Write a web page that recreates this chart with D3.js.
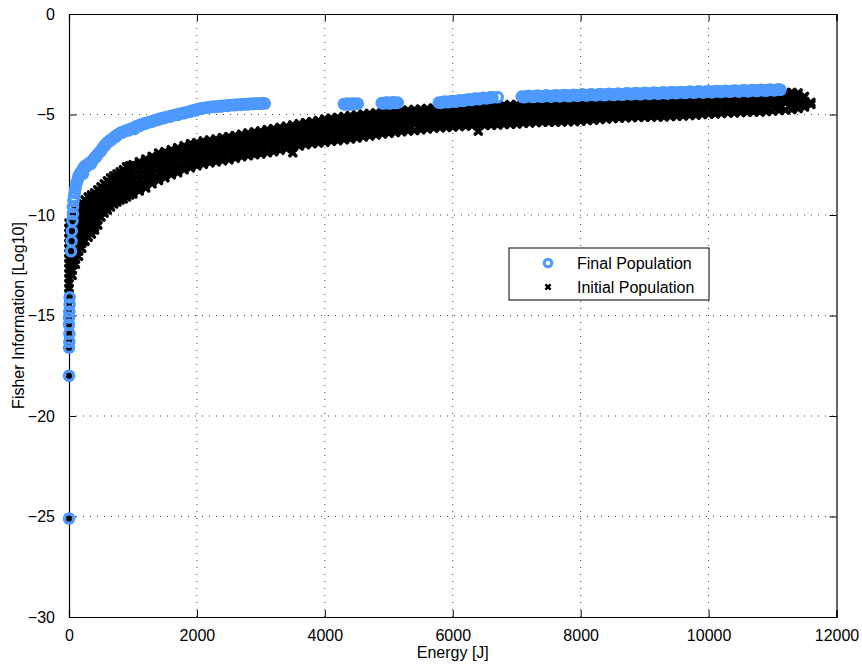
<!DOCTYPE html>
<html>
<head>
<meta charset="utf-8">
<script src="https://cdn.jsdelivr.net/npm/d3@7"></script>
<style>
  body { margin: 0; background: #fff; }
  text { font-family: "Liberation Sans", Arial, Helvetica, sans-serif; }
</style>
</head>
<body>
<div id="chart"></div>
<script>
var margin = {top: 14, right: 25.5, bottom: 48, left: 69},
    width = 862 - margin.left - margin.right,
    height = 665 - margin.top - margin.bottom;

// axis ticks
var xTicks = [0, 2000, 4000, 6000, 8000, 10000, 12000];
var yTicks = [0, -5, -10, -15, -20, -25, -30];

// legend entries
var seriesNames = ["Final Population", "Initial Population"];

// initial population: [energy, fisher values read down the band at that energy]
var initialPop = [
  [0, -10.4,-10.65,-10.9,-11.15,-11.4,-11.65,-11.9,-12.15,-12.4,-12.65,-12.9,-13.15,-13.4,-13.65,-13.9],
  [2, -14.1,-14.45,-14.8,-15.1,-15.45,-15.9,-16.3,-16.6,-18.0,-25.1],
  [50, -10.0,-10.25,-10.5,-10.75,-11.0,-11.25,-11.5,-11.75,-12.0,-12.25,-12.5,-12.75,-13.0],
  [100, -9.7,-9.95,-10.2,-10.45,-10.7,-10.95,-11.2,-11.45,-11.7,-11.95,-12.2,-12.45],
  [150, -9.55,-9.8,-10.05,-10.3,-10.55,-10.8,-11.05,-11.3,-11.55,-11.8,-12.05],
  [200, -9.4,-9.65,-9.9,-10.15,-10.4,-10.65,-10.9,-11.15,-11.4,-11.65],
  [250, -9.25,-9.5,-9.75,-10.0,-10.25,-10.5,-10.75,-11.0,-11.3],
  [300, -9.1,-9.35,-9.6,-9.85,-10.1,-10.35,-10.6,-10.85,-11.1],
  [350, -9.0,-9.25,-9.5,-9.75,-10.0,-10.25,-10.5,-10.75,-10.95],
  [400, -8.9,-9.15,-9.4,-9.65,-9.9,-10.15,-10.4,-10.6,-10.75],
  [450, -8.75,-9.0,-9.25,-9.5,-9.75,-10.0,-10.25,-10.5],
  [500, -8.6,-8.85,-9.1,-9.35,-9.6,-9.85,-10.1],
  [550, -8.45,-8.7,-8.95,-9.2,-9.45,-9.7,-9.9],
  [600, -8.3,-8.55,-8.8,-9.05,-9.3,-9.55,-9.75],
  [650, -8.15,-8.4,-8.65,-8.9,-9.15,-9.4,-9.6],
  [700, -8.05,-8.3,-8.55,-8.8,-9.05,-9.3,-9.45],
  [750, -7.95,-8.2,-8.45,-8.7,-8.95,-9.2,-9.35],
  [800, -7.85,-8.1,-8.35,-8.6,-8.85,-9.1,-9.25],
  [850, -7.75,-8.0,-8.25,-8.5,-8.75,-9.0,-9.2],
  [900, -7.6,-7.85,-8.1,-8.35,-8.6,-8.85,-9.1],
  [950, -7.55,-7.8,-8.05,-8.3,-8.55,-8.8,-9.0],
  [1000, -7.5,-7.75,-8.0,-8.25,-8.5,-8.75,-8.95],
  [1100, -7.35,-7.47,-7.72,-7.97,-8.22,-8.47,-8.72,-8.8],
  [1200, -7.22,-7.47,-7.72,-7.97,-8.22,-8.47,-8.65],
  [1300, -7.08,-7.2,-7.45,-7.7,-7.95,-8.2,-8.45],
  [1400, -6.92,-7.17,-7.42,-7.67,-7.92,-8.17,-8.28],
  [1500, -6.85,-6.97,-7.22,-7.47,-7.72,-7.97,-8.15],
  [1600, -6.75,-7.0,-7.25,-7.5,-7.75,-8.0],
  [1700, -6.65,-6.77,-7.02,-7.27,-7.52,-7.77,-7.9],
  [1800, -6.55,-6.8,-7.05,-7.3,-7.55,-7.75],
  [1900, -6.45,-6.57,-6.82,-7.07,-7.32,-7.57,-7.65],
  [2000, -6.4,-6.65,-6.9,-7.15,-7.4,-7.55],
  [2100, -6.32,-6.44,-6.69,-6.94,-7.19,-7.44,-7.48],
  [2200, -6.27,-6.52,-6.77,-7.02,-7.27,-7.4],
  [2300, -6.22,-6.34,-6.59,-6.84,-7.09,-7.35],
  [2400, -6.15,-6.4,-6.65,-6.9,-7.15,-7.3],
  [2500, -6.1,-6.22,-6.47,-6.72,-6.97,-7.25],
  [2600, -6.05,-6.3,-6.55,-6.8,-7.05,-7.18],
  [2700, -5.98,-6.1,-6.35,-6.6,-6.85,-7.1],
  [2800, -5.92,-6.17,-6.42,-6.67,-6.92,-7.05],
  [2900, -5.86,-5.98,-6.23,-6.48,-6.73,-7.0],
  [3000, -5.82,-6.07,-6.32,-6.57,-6.82,-6.97],
  [3100, -5.75,-5.87,-6.12,-6.37,-6.62,-6.9],
  [3200, -5.7,-5.95,-6.2,-6.45,-6.7,-6.85],
  [3300, -5.64,-5.76,-6.01,-6.26,-6.51,-6.78],
  [3400, -5.58,-5.83,-6.08,-6.33,-6.58,-6.7],
  [3500, -5.52,-5.64,-5.89,-6.14,-6.39,-6.62,-6.9],
  [3600, -5.46,-5.71,-5.96,-6.21,-6.46,-6.56],
  [3700, -5.4,-5.52,-5.77,-6.02,-6.27,-6.5],
  [3800, -5.35,-5.6,-5.85,-6.1,-6.35,-6.45],
  [3900, -5.3,-5.42,-5.67,-5.92,-6.17,-6.42],
  [4000, -5.23,-5.48,-5.73,-5.98,-6.23,-6.38],
  [4100, -5.18,-5.3,-5.55,-5.8,-6.05,-6.33],
  [4200, -5.14,-5.39,-5.64,-5.89,-6.14,-6.3],
  [4300, -5.1,-5.22,-5.47,-5.72,-5.97,-6.26],
  [4400, -5.05,-5.3,-5.55,-5.8,-6.05,-6.22],
  [4500, -5.02,-5.14,-5.39,-5.64,-5.89,-6.17],
  [4600, -4.98,-5.23,-5.48,-5.73,-5.98,-6.12],
  [4700, -4.95,-5.07,-5.32,-5.57,-5.82,-6.07],
  [4800, -4.92,-5.17,-5.42,-5.67,-5.92,-6.02],
  [4900, -4.88,-5.0,-5.25,-5.5,-5.75,-5.97],
  [5000, -4.85,-5.1,-5.35,-5.6,-5.85,-5.93],
  [5100, -4.83,-4.95,-5.2,-5.45,-5.7,-5.9],
  [5200, -4.8,-5.05,-5.3,-5.55,-5.8,-5.86],
  [5300, -4.78,-4.9,-5.15,-5.4,-5.65,-5.82],
  [5400, -4.75,-5.0,-5.25,-5.5,-5.8],
  [5500, -4.73,-4.85,-5.1,-5.35,-5.6,-5.76],
  [5600, -4.7,-4.95,-5.2,-5.45,-5.72],
  [5700, -4.68,-4.8,-5.05,-5.3,-5.55,-5.68],
  [5800, -4.66,-4.91,-5.16,-5.41,-5.66],
  [5900, -4.64,-4.76,-5.01,-5.26,-5.51,-5.64],
  [6000, -4.62,-4.87,-5.12,-5.37,-5.62],
  [6100, -4.6,-4.72,-4.97,-5.22,-5.47,-5.6],
  [6200, -4.58,-4.83,-5.08,-5.33,-5.58],
  [6300, -4.57,-4.69,-4.94,-5.19,-5.44,-5.56],
  [6400, -4.56,-4.81,-5.06,-5.31,-5.55,-5.82],
  [6500, -4.55,-4.67,-4.92,-5.17,-5.42,-5.54],
  [6600, -4.54,-4.79,-5.04,-5.29,-5.53],
  [6700, -4.53,-4.65,-4.9,-5.15,-5.4,-5.52],
  [6800, -4.52,-4.77,-5.02,-5.27,-5.5],
  [6900, -4.51,-4.63,-4.88,-5.13,-5.38,-5.48],
  [7000, -4.5,-4.75,-5.0,-5.25,-5.47],
  [7100, -4.49,-4.61,-4.86,-5.11,-5.36,-5.44],
  [7200, -4.48,-4.73,-4.98,-5.23,-5.42],
  [7300, -4.47,-4.59,-4.84,-5.09,-5.34,-5.4],
  [7400, -4.46,-4.71,-4.96,-5.21,-5.38],
  [7500, -4.45,-4.57,-4.82,-5.07,-5.32,-5.38],
  [7600, -4.44,-4.69,-4.94,-5.19,-5.38],
  [7700, -4.43,-4.55,-4.8,-5.05,-5.3,-5.37],
  [7800, -4.42,-4.67,-4.92,-5.17,-5.36],
  [7900, -4.41,-4.53,-4.78,-5.03,-5.28,-5.35],
  [8000, -4.4,-4.65,-4.9,-5.15,-5.33],
  [8100, -4.39,-4.51,-4.76,-5.01,-5.26,-5.3],
  [8200, -4.38,-4.63,-4.88,-5.13,-5.28],
  [8300, -4.37,-4.49,-4.74,-4.99,-5.25],
  [8400, -4.36,-4.61,-4.86,-5.11,-5.22],
  [8500, -4.35,-4.47,-4.72,-4.97,-5.2],
  [8600, -4.34,-4.59,-4.84,-5.09,-5.18],
  [8700, -4.33,-4.45,-4.7,-4.95,-5.16],
  [8800, -4.32,-4.57,-4.82,-5.07,-5.15],
  [8900, -4.31,-4.43,-4.68,-4.93,-5.14],
  [9000, -4.3,-4.55,-4.8,-5.05,-5.13],
  [9100, -4.29,-4.41,-4.66,-4.91,-5.12],
  [9200, -4.28,-4.53,-4.78,-5.03,-5.12],
  [9300, -4.27,-4.39,-4.64,-4.89,-5.12],
  [9400, -4.26,-4.51,-4.76,-5.01,-5.1],
  [9500, -4.25,-4.37,-4.62,-4.87,-5.08],
  [9600, -4.24,-4.49,-4.74,-4.99,-5.07],
  [9700, -4.23,-4.35,-4.6,-4.85,-5.05],
  [9800, -4.22,-4.47,-4.72,-4.97,-5.03],
  [9900, -4.21,-4.33,-4.58,-4.83,-5.0],
  [10000, -4.2,-4.45,-4.7,-4.98],
  [10100, -4.19,-4.31,-4.56,-4.81,-4.97],
  [10200, -4.18,-4.43,-4.68,-4.95],
  [10300, -4.17,-4.29,-4.54,-4.79,-4.93],
  [10400, -4.16,-4.41,-4.66,-4.92],
  [10500, -4.15,-4.27,-4.52,-4.77,-4.9],
  [10600, -4.14,-4.39,-4.64,-4.89],
  [10700, -4.13,-4.25,-4.5,-4.75,-4.88],
  [10800, -4.12,-4.37,-4.62,-4.87],
  [10900, -4.1,-4.22,-4.47,-4.72,-4.85],
  [11000, -4.05,-4.3,-4.55,-4.83],
  [11100, -3.98,-4.1,-4.35,-4.6,-4.8],
  [11200, -3.93,-4.18,-4.43,-4.78],
  [11300, -3.9,-4.02,-4.27,-4.52,-4.75],
  [11400, -3.93,-4.18,-4.43,-4.7],
  [11500, -4.1,-4.35,-4.62],
  [11600, -4.4,-4.5]
];

// final population, low-energy curve: [energy, fisher]
var finalCurve = [
  [0,-25.1],[0,-18.0],[0,-16.6],[5,-16.3],[5,-15.9],[0,-15.45],[0,-15.1],[5,-14.8],[10,-14.45],[10,-14.1],
  [31,-11.8],[40,-11.3],[45,-10.8],[55,-10.3],[62,-9.95],[62,-9.6],[70,-9.3],[80,-9.1],[90,-8.9],
  [100,-8.7],[110,-8.5],[125,-8.35],[140,-8.2],[150,-8.05],[170,-7.95],[190,-7.85],[219,-7.7],[219,-7.95],
  [240,-7.6],[260,-7.55],[281,-7.5],[305,-7.45],[330,-7.4],[355,-7.35],[375,-7.25],[400,-7.15],[430,-7.05],
  [455,-6.95],[484,-6.85],[510,-6.75],[531,-6.65],[555,-6.55],[580,-6.45],[610,-6.37],[640,-6.29],[670,-6.22],
  [700,-6.15],[725,-6.08],[750,-6.02],[785,-5.95],[820,-5.88],[860,-5.83],[900,-5.79],[950,-5.73],[1000,-5.67],
  [1040,-5.61],[1080,-5.55],[1125,-5.5],[1170,-5.45],[1220,-5.41],[1266,-5.37],[1310,-5.32],[1360,-5.27],
  [1410,-5.22],[1460,-5.18],[1510,-5.14],[1560,-5.1],[1615,-5.05],[1670,-5.01],[1725,-4.97],[1781,-4.93],
  [1825,-4.9],[1870,-4.86],[1915,-4.82],[1960,-4.78],[2005,-4.74],[2047,-4.7],[2100,-4.68],[2150,-4.65],
  [2200,-4.63],[2250,-4.61],[2300,-4.6],[2350,-4.58],[2400,-4.57],[2460,-4.55],[2510,-4.54],[2562,-4.53],
  [2610,-4.51],[2660,-4.5],[2710,-4.49],[2760,-4.48],[2810,-4.47],[2860,-4.46],[2910,-4.46],[2950,-4.45],
  [3000,-4.45],[3060,-4.45],
  [265,-7.62],[345,-7.45],[420,-7.13],[495,-6.82],[570,-6.52],[650,-6.3],[735,-6.1],[840,-5.89],[930,-5.79],
  [1020,-5.72],[1100,-5.58],[1190,-5.46],[1290,-5.36],[1385,-5.27],[1485,-5.18],[1585,-5.1],[1700,-5.02],
  [1800,-4.94],[1890,-4.87],[1980,-4.8],[2070,-4.72],[2175,-4.66],[2275,-4.63],[2375,-4.6],[2480,-4.57],
  [2590,-4.54],[2690,-4.52],[2790,-4.5],[2880,-4.48],[2980,-4.47],[3030,-4.43]
];

// final population, high-energy groups: [energy, fisher]
var finalGroups = [
  [4297,-4.48],[4340,-4.47],[4380,-4.48],[4420,-4.47],[4470,-4.47],[4516,-4.46],
  [4318,-4.5],[4360,-4.45],[4400,-4.5],[4445,-4.45],
  [4890,-4.43],[4940,-4.42],[4990,-4.42],[5040,-4.42],[5090,-4.41],[5140,-4.41],
  [4915,-4.45],[4965,-4.4],[5015,-4.45],[5065,-4.39],[5115,-4.43],
  [5781,-4.41],[5840,-4.39],[5900,-4.37],[5960,-4.36],[6020,-4.34],[6080,-4.32],[6140,-4.3],[6200,-4.28],
  [6260,-4.26],[6320,-4.24],[6380,-4.22],[6440,-4.2],[6500,-4.18],[6560,-4.17],[6620,-4.15],[6703,-4.14],
  [5810,-4.42],[5870,-4.36],[5930,-4.39],[5990,-4.33],[6050,-4.36],[6110,-4.29],[6170,-4.32],[6230,-4.25],
  [6290,-4.28],[6350,-4.21],[6410,-4.24],[6470,-4.17],[6530,-4.2],[6590,-4.14]
];

// final population, long top band: [energy, fisher]
var finalTop = [
  [7078,-4.11],[7150,-4.1],[7220,-4.1],[7290,-4.09],[7360,-4.09],[7430,-4.08],[7500,-4.08],[7570,-4.07],
  [7640,-4.06],[7710,-4.06],[7780,-4.05],[7850,-4.05],[7920,-4.04],[7990,-4.03],[8060,-4.03],[8130,-4.02],
  [8200,-4.02],[8270,-4.01],[8340,-4.0],[8410,-4.0],[8480,-3.99],[8550,-3.99],[8620,-3.98],[8690,-3.97],
  [8760,-3.97],[8830,-3.96],[8900,-3.96],[8970,-3.95],[9040,-3.94],[9110,-3.94],[9180,-3.93],[9250,-3.93],
  [9320,-3.92],[9390,-3.91],[9460,-3.91],[9530,-3.9],[9600,-3.9],[9670,-3.89],[9740,-3.88],[9810,-3.88],
  [9880,-3.87],[9950,-3.87],[10020,-3.86],[10090,-3.85],[10160,-3.85],[10230,-3.84],[10300,-3.84],[10370,-3.83],
  [10440,-3.82],[10510,-3.82],[10580,-3.81],[10650,-3.81],[10720,-3.8],[10790,-3.79],[10860,-3.79],[10930,-3.78],
  [11000,-3.78],[11060,-3.77],[11125,-3.77],
  [7115,-4.14],[7185,-4.07],[7255,-4.13],[7325,-4.06],[7395,-4.12],[7465,-4.05],[7535,-4.11],[7605,-4.04],
  [7675,-4.1],[7745,-4.03],[7815,-4.09],[7885,-4.02],[7955,-4.07],[8025,-4.0],[8095,-4.06],[8165,-3.99],
  [8235,-4.05],[8305,-3.98],[8375,-4.04],[8445,-3.97],[8515,-4.03],[8585,-3.96],[8655,-4.02],[8725,-3.95],
  [8795,-4.0],[8865,-3.93],[8935,-3.99],[9005,-3.92],[9075,-3.98],[9145,-3.91],[9215,-3.97],[9285,-3.9],
  [9355,-3.96],[9425,-3.89],[9495,-3.94],[9565,-3.88],[9635,-3.93],[9705,-3.86],[9775,-3.92],[9845,-3.85],
  [9915,-3.91],[9985,-3.84],[10055,-3.9],[10125,-3.83],[10195,-3.88],[10265,-3.82],[10335,-3.87],[10405,-3.81],
  [10475,-3.86],[10545,-3.79],[10615,-3.85],[10685,-3.78],[10755,-3.83],[10825,-3.77],[10895,-3.82],[10965,-3.76],
  [11030,-3.8],[11095,-3.75]
];

var blue = "#4d99ff";
var fmt = function(d) { return d < 0 ? "\u2212" + Math.abs(d) : String(d); };

var svg = d3.select("#chart")
  .append("svg")
    .attr("width", 862)
    .attr("height", 665)
  .append("g")
    .attr("transform", "translate(" + margin.left + "," + margin.top + ")");

var x = d3.scaleLinear().domain([0, 12000]).range([0, width]);
var y = d3.scaleLinear().domain([-30, 0]).range([height, 0]);

// dotted grid
svg.append("g").selectAll("line")
  .data(xTicks.slice(1, -1))
  .enter().append("line")
    .attr("x1", function(d) { return x(d); })
    .attr("x2", function(d) { return x(d); })
    .attr("y1", 0).attr("y2", height)
    .attr("stroke", "#444").attr("stroke-width", 1)
    .attr("stroke-dasharray", "1,6");
svg.append("g").selectAll("line")
  .data(yTicks.slice(1, -1))
  .enter().append("line")
    .attr("y1", function(d) { return y(d); })
    .attr("y2", function(d) { return y(d); })
    .attr("x1", 0).attr("x2", width)
    .attr("stroke", "#444").attr("stroke-width", 1)
    .attr("stroke-dasharray", "1,6");

// axes, ticks pointing inward like matlab
var tl = 7;
svg.append("g")
  .attr("transform", "translate(0," + height + ")")
  .call(d3.axisBottom(x).tickValues(xTicks).tickSize(-tl).tickPadding(tl + 6).tickFormat(d3.format("d")));
svg.append("g")
  .call(d3.axisTop(x).tickValues(xTicks).tickSize(-tl).tickFormat(""));
svg.append("g")
  .call(d3.axisLeft(y).tickValues(yTicks).tickSize(-tl).tickPadding(tl + 7).tickFormat(fmt));
svg.append("g")
  .attr("transform", "translate(" + width + ",0)")
  .call(d3.axisRight(y).tickValues(yTicks).tickSize(-tl).tickFormat(""));

svg.selectAll(".domain").attr("stroke", "#000").attr("stroke-width", 1.2);
svg.selectAll(".tick line").attr("stroke", "#000");
svg.selectAll(".tick text")
  .style("font-family", "'Liberation Sans', Arial, sans-serif")
  .style("font-size", "16px")
  .attr("fill", "#000");

// initial population (x markers)
var initialPts = initialPop.flatMap(function(r) {
  return r.slice(1).map(function(v) { return {e: r[0], f: v}; });
});
var h = 3.0;
var cross = "M" + (-h) + "," + (-h) + "L" + h + "," + h + "M" + (-h) + "," + h + "L" + h + "," + (-h);

svg.append("g").selectAll("path")
  .data(initialPts)
  .enter().append("path")
    .attr("transform", function(d) { return "translate(" + x(d.e) + "," + y(d.f) + ")"; })
    .attr("d", cross)
    .attr("stroke", "#000")
    .attr("stroke-width", 3.6)
    .attr("stroke-linecap", "round")
    .attr("fill", "none");

// final population (open circles)
svg.append("g").selectAll("circle")
  .data(finalCurve.concat(finalGroups, finalTop))
  .enter().append("circle")
    .attr("cx", function(d) { return x(d[0]); })
    .attr("cy", function(d) { return y(d[1]); })
    .attr("r", 4.7)
    .attr("fill", "none")
    .attr("stroke", blue)
    .attr("stroke-width", 3.2);

// legend
var legend = svg.append("g").attr("transform", "translate(" + (509 - margin.left) + "," + (248 - margin.top) + ")");
legend.append("rect")
  .attr("width", 200).attr("height", 52)
  .attr("fill", "#fff").attr("stroke", "#000").attr("stroke-width", 1);
legend.append("circle")
  .attr("cx", 39).attr("cy", 15).attr("r", 3.8)
  .attr("fill", "none").attr("stroke", blue).attr("stroke-width", 3);
legend.append("path")
  .attr("transform", "translate(39,39)")
  .attr("d", "M-2.6,-2.6L2.6,2.6M-2.6,2.6L2.6,-2.6")
  .attr("stroke", "#000").attr("stroke-width", 2.4);
legend.selectAll("text")
  .data(seriesNames)
  .enter().append("text")
    .attr("x", 68)
    .attr("y", function(d, i) { return 21 + i * 24; })
    .style("font-size", "16px")
    .text(function(d) { return d; });

// axis labels
svg.append("text")
  .attr("x", width / 2)
  .attr("y", height + 41)
  .style("text-anchor", "middle")
  .style("font-size", "16px")
  .text("Energy [J]");

svg.append("text")
  .attr("transform", "rotate(-90)")
  .attr("x", -(height / 2))
  .attr("y", -45)
  .style("text-anchor", "middle")
  .style("font-size", "16px")
  .text("Fisher Information [Log10]");
</script>
</body>
</html>
